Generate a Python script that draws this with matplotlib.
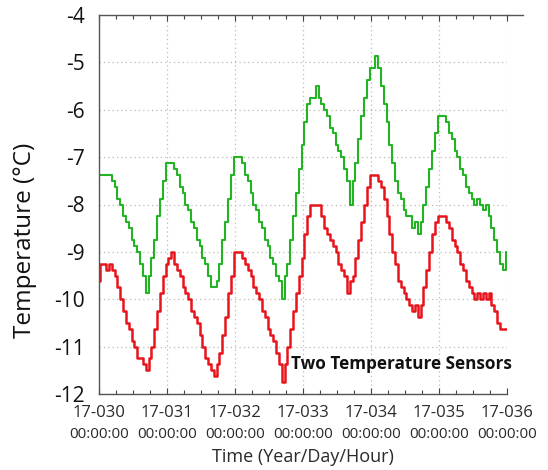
import matplotlib
matplotlib.use("Agg")
import matplotlib.pyplot as plt
from matplotlib.lines import Line2D
import numpy as np

# ---------------- data (hourly readings, °C) ----------------
day_labels = ["17-030", "17-031", "17-032", "17-033", "17-034", "17-035", "17-036"]
time_labels = ["00:00:00"] * 7
y_ticks = [-4, -5, -6, -7, -8, -9, -10, -11, -12]

green_sensor = [
    # day 030
    -7.375, -7.375, -7.375, -7.375, -7.375, -7.5, -7.625, -7.875, -8.0, -8.25, -8.375, -8.5,
    -8.75, -8.875, -9.0, -9.25, -9.5, -9.875, -9.5, -9.125, -8.75, -8.25, -7.875, -7.5,
    # day 031
    -7.125, -7.125, -7.125, -7.25, -7.375, -7.625, -7.75, -8.0, -8.125, -8.375, -8.5, -8.75,
    -8.875, -9.125, -9.25, -9.5, -9.75, -9.75, -9.625, -9.25, -8.75, -8.375, -7.875, -7.375,
    # day 032
    -7.0, -7.0, -7.0, -7.125, -7.375, -7.5, -7.75, -8.0, -8.125, -8.375, -8.5, -8.75,
    -8.875, -9.125, -9.25, -9.5, -9.625, -10.0, -9.5, -9.25, -8.75, -8.25, -7.75, -7.25,
    # day 033
    -6.75, -6.25, -5.875, -5.75, -5.75, -5.5, -5.75, -5.875, -6.0, -6.125, -6.375, -6.5,
    -6.75, -6.875, -7.0, -7.25, -7.5, -8.0, -7.5, -7.125, -6.625, -6.125, -5.75, -5.375,
    # day 034
    -5.125, -5.125, -4.875, -5.125, -5.5, -5.875, -6.25, -6.75, -7.125, -7.5, -7.75, -7.875,
    -8.125, -8.25, -8.25, -8.5, -8.375, -8.625, -8.375, -8.0, -7.625, -7.25, -6.875, -6.5,
    # day 035
    -6.125, -6.125, -6.125, -6.25, -6.5, -6.625, -6.875, -7.0, -7.25, -7.375, -7.625, -7.75,
    -7.875, -8.0, -7.875, -8.0, -8.125, -8.0, -8.25, -8.5, -8.75, -9.0, -9.25, -9.375,
    # day 036 00:00
    -9.0,
]

red_sensor = [
    # day 030
    -9.625, -9.25, -9.25, -9.375, -9.25, -9.375, -9.5, -9.75, -10.0, -10.25, -10.5, -10.625,
    -10.875, -11.0, -11.25, -11.25, -11.375, -11.5, -11.25, -11.0, -10.625, -10.25, -9.875, -9.5,
    # day 031
    -9.25, -9.125, -9.0, -9.25, -9.375, -9.5, -9.75, -9.875, -10.0, -10.25, -10.375, -10.5,
    -10.75, -11.0, -11.25, -11.375, -11.5, -11.625, -11.375, -11.125, -10.75, -10.375, -9.875, -9.5,
    # day 032
    -9.0, -9.0, -9.0, -9.125, -9.25, -9.375, -9.5, -9.75, -9.875, -10.0, -10.25, -10.375,
    -10.625, -10.75, -10.875, -11.125, -11.375, -11.75, -11.375, -11.0, -10.625, -10.25, -9.875, -9.5,
    # day 033
    -9.125, -8.625, -8.25, -8.0, -8.0, -8.0, -8.0, -8.25, -8.5, -8.625, -8.75, -8.875,
    -9.0, -9.25, -9.375, -9.5, -9.875, -9.625, -9.5, -9.125, -8.75, -8.375, -8.0, -7.625,
    # day 034
    -7.375, -7.375, -7.375, -7.5, -7.625, -7.875, -8.25, -8.625, -9.0, -9.25, -9.625, -9.75,
    -9.875, -10.0, -10.125, -10.25, -10.125, -10.375, -10.125, -9.75, -9.375, -9.0, -8.625, -8.375,
    # day 035
    -8.25, -8.25, -8.25, -8.375, -8.5, -8.75, -8.875, -9.0, -9.25, -9.375, -9.625, -9.75,
    -9.875, -10.0, -9.875, -10.0, -9.875, -10.0, -9.875, -10.125, -10.25, -10.5, -10.625, -10.625,
    # day 036 00:00
    -10.625,
]

# ---------------- figure ----------------
plt.rcParams['font.family'] = ['Open Sans', 'DejaVu Sans']

W, H = 548, 470
fig = plt.figure(figsize=(W / 100, H / 100), dpi=100)
L, R, T, B = 99, 507, 15, 394
ax = fig.add_axes([L / W, 1 - B / H, (R - L) / W, (B - T) / H])

t = np.arange(len(green_sensor)) / 24.0
ax.plot(t, green_sensor, drawstyle='steps-mid', color='#22b422', lw=1.5)
ax.plot(t, red_sensor, drawstyle='steps-mid', color='#e8141c', lw=1.8)

ax.set_xlim(0, 6)
ax.set_ylim(-12, -4)

ax.set_yticks(y_ticks)
ax.set_yticklabels([str(v) for v in y_ticks], fontsize=15, color='#111111')
ax.tick_params(axis='y', length=0, pad=10)

ax.set_xticks(range(7))
ax.set_xticklabels(day_labels, fontsize=12, color='#2a2a2a')
ax.set_xticks(np.arange(0, 6.01, 0.25), minor=True)
ax.tick_params(axis='x', which='both', direction='in', top=True, bottom=True,
               color='#444444', width=0.8, pad=8)
ax.tick_params(axis='x', which='major', length=4)
ax.tick_params(axis='x', which='minor', length=3)

for i, lab in enumerate(time_labels):
    ax.text(i, -0.108, lab, transform=ax.get_xaxis_transform(), ha='center', va='center',
            fontsize=11, color='#2a2a2a')

ax.grid(True, which='major', color='#bbbbbb', linestyle=(0, (1, 2.5)), lw=0.9)

for s in ['left', 'bottom', 'top']:
    ax.spines[s].set_color('#555555')
    ax.spines[s].set_linewidth(1.0)
ax.spines['right'].set_visible(False)

# top border continues a little past the last day
ax.add_line(Line2D([1.0, 1.04], [1.0, 1.0], transform=ax.transAxes, color='#555555',
                   lw=1.0, clip_on=False))

ax.set_xlabel("Time (Year/Day/Hour)", fontsize=13, color='#2a2a2a', labelpad=19)
ax.set_ylabel("Temperature (°C)", fontsize=17.5, color='#111111')
ax.yaxis.set_label_coords(-0.152, 0.405)

ax.text(1.012, -11.36, "Two Temperature Sensors", transform=ax.get_yaxis_transform(),
        ha='right', va='center', fontsize=12.3, fontweight='bold', color='#111111')

fig.savefig("out.png", dpi=100)
